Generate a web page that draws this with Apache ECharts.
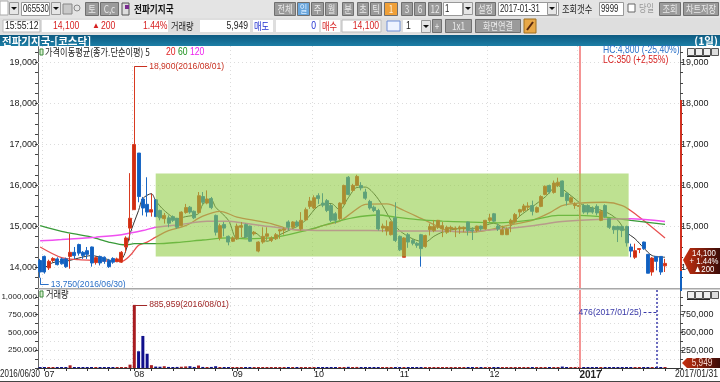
<!DOCTYPE html>
<html>
<head>
<meta charset="utf-8">
<script src="https://cdn.jsdelivr.net/npm/echarts@6/dist/echarts.min.js"></script>
<style>
  html, body { margin: 0; padding: 0; background: #fff; }
  #chart { width: 720px; height: 382px; }
</style>
</head>
<body>
<div id="chart"></div>
<script>
// one row per trading day: [open, close, low, high]
const candles = [
  [14170,13890,13750,14210],[14270,13890,13850,14290],[13990,14150,13940,14190],[14170,14220,14130,14250],
  [14210,14070,14050,14250],[14210,14090,14070,14240],[14210,14020,13990,14240],[14270,14370,13970,14820],
  [14370,14290,14210,14500],[14560,14350,14290,14580],[14370,14290,14210,14400],[14410,14320,14210,14500],
  [14500,14110,14020,14510],[14120,14240,14070,14270],[14270,14110,14050,14290],[14250,14150,14090,14270],
  [14170,14020,13990,14210],[14220,14130,14090,14250],[14150,14210,14130,14240],[14130,14370,14110,14400],
  [14500,14720,14370,14760],[14960,15200,14660,16300],[15410,17000,15410,18900],[16790,15730,15590,16790],
  [15670,15450,15270,15720],[15540,15350,15240,16200],[15350,15410,15240,15800],[15650,15240,15230,15670],
  [15390,15210,15150,15410],[15190,15270,15070,15330],[15210,15080,14980,15270],[15240,15150,15110,15270],
  [15200,14980,14940,15210],[15020,15350,15000,15370],[15340,15460,15310,15550],[15470,15350,15310,15500],
  [15370,15210,15180,15390],[15340,15750,15310,15840],[15730,15590,15540,15840],[15570,15670,15540,15880],
  [15680,15460,15420,15720],[15270,14860,14780,15290],[14720,15020,14660,15070],[15050,14960,14760,15110],
  [14760,14620,14540,14780],[14640,14720,14620,14760],[14700,15010,14670,15070],[14980,15020,14740,15110],
  [15050,14740,14720,15070],[15010,14640,14620,15020],[14820,14860,14780,14890],[14400,14620,14370,14640],
  [14620,14760,14580,14980],[14760,14820,14660,14980],[14660,14720,14620,14760],[14700,14800,14670,14840],
  [14890,14920,14700,14940],[14910,14940,14800,14980],[15110,14980,14900,15150],[14980,15110,14940,15130],
  [15110,15020,14980,15150],[14940,15150,14900,15350],[15160,15410,15130,15460],[15490,15620,15430,15720],
  [15450,15700,15420,15760],[15750,15680,15550,15810],[15570,15520,15470,15810],[15630,15390,15350,15670],
  [15510,15150,15110,15550],[15310,15150,15070,15350],[15190,15570,15160,15590],[15550,16000,15540,16020],
  [16200,15780,15760,16230],[15880,16000,15840,16040],[16000,16220,15980,16260],[16000,15940,15880,16080],
  [15840,15690,15650,15920],[15610,15450,15410,15650],[15470,15390,15350,15510],[15390,14940,14900,15430],
  [14960,15010,14860,15070],[14890,15000,14780,15150],[14800,15110,14780,15130],[15210,14660,14620,15590],
  [14760,14430,14400,14780],[14250,14720,14250,14740],[14800,14620,14480,14840],[14660,14590,14540,14700],
  [14590,14540,14480,14620],[14800,14460,14020,14820],[14510,14780,14480,14800],[14920,15000,14780,15070],
  [14900,15000,14860,15160],[14980,15150,14940,15160],[14940,15020,14740,15110],[14860,14980,14820,15020],
  [14940,14980,14860,15020],[14930,14960,14740,15000],[14940,14980,14820,15020],[14940,14980,14860,15000],
  [15110,14900,14780,15120],[14920,14890,14670,14980],[14900,15010,14860,15020],[15010,14940,14900,15020],
  [14940,15150,14920,15160],[15150,15210,15110,15310],[15310,15130,15100,15330],[15010,14940,14890,15070],
  [14800,14920,14790,15020],[14800,14940,14790,14980],[15070,15150,14860,15190],[15110,15290,15070,15330],
  [15350,15410,15230,15430],[15390,15500,15350,15550],[15470,15500,15390,15590],[15510,15370,15270,15630],
  [15350,15460,15330,15490],[15490,15730,15470,15760],[15780,15980,15760,16000],[16000,15840,15800,16020],
  [15830,16060,15800,16120],[16000,16080,15960,16190],[16110,15730,15720,16120],[15810,15630,15510,15840],
  [15590,15700,15570,15730],[15510,15540,15430,15590],[15490,15510,15190,15590],[15510,15350,15310,15550],
  [15510,15350,15290,15540],[15450,15350,15310,15490],[15490,15330,15270,15540],[15150,15370,15130,15410],
  [15510,15240,15210,15540],[15190,14980,14940,15210],[15000,14920,14820,15020],[15000,14920,14620,15020],
  [15000,14900,14740,15020],[15000,14600,14510,15020],[14500,14400,14250,14580],[14250,14410,14210,14580],
  [14440,14460,14350,14460],[14620,14460,14430,14630],[14320,13860,13860,14330],[13890,14230,13800,14250],
  [14270,14150,13930,14280],[14270,13890,13820,14280],[14040,14100,13890,14210]
];
const volumes = [
  8000,12000,9000,7000,6000,8000,6000,38000,9000,8000,7000,6000,9000,8000,7000,6000,5000,6000,7000,10000,12000,
  47000,885959,235000,450000,200000,40000,20000,18000,25000,15000,8000,15000,18000,22000,25000,15000,35000,15000,
  12000,15000,25000,10000,12000,10000,9000,7000,8000,6000,7000,5000,8000,9000,6000,5000,6000,7000,5000,6000,8000,
  7000,9000,12000,10000,9000,7000,6000,8000,9000,7000,10000,14000,16000,12000,15000,9000,8000,7000,6000,9000,
  7000,6000,5000,8000,9000,8000,6000,5000,6000,10000,8000,7000,6000,7000,5000,6000,5000,4000,5000,6000,7000,5000,
  6000,5000,7000,6000,8000,5000,6000,7000,8000,6000,7000,6000,5000,12000,12000,14000,12000,9000,8000,7000,20000,
  12000,10000,14000,7000,5000,4000,5000,4000,6000,5000,4000,5000,6000,7000,5000,6000,5000,4000,10000,12000,10000,
  476,3000,5949
];
// moving averages as [day index, value]
const ma5 = [
  [0,13900],[3,14120],[6,14150],[9,14230],[12,14290],[15,14220],[18,14140],[19,14190],[20,14400],[21,14820],[23,15390],
  [24,15680],[26,15800],[27,15630],[29,15390],[32,15190],[34,15240],[37,15310],[38,15540],[40,15650],[41,15470],[44,15150],
  [46,14700],[48,14740],[50,14850],[53,14640],[56,14800],[60,15000],[62,15150],[65,15500],[68,15560],[70,15400],[72,15700],
  [74,15950],[76,15960],[78,15800],[80,15510],[82,15150],[84,14900],[87,14700],[90,14620],[92,14760],[94,14860],[98,14950],
  [102,14960],[106,15080],[109,14950],[112,15250],[115,15480],[118,15720],[121,16000],[122,15920],[125,15670],[127,15510],
  [130,15430],[133,15310],[135,15150],[137,14860],[139,14700],[141,14480],[143,14290],[146,14250]
];
const ma20 = [
  [0,14500],[5,14240],[9,14190],[13,14170],[19,14150],[21,14290],[23,14540],[25,14620],[27,14740],[30,14900],[34,15020],
  [38,15250],[42,15370],[46,15230],[51,15130],[54,15070],[58,14940],[62,14900],[66,15020],[70,15130],[73,15350],[76,15540],
  [81,15550],[85,15390],[90,15150],[96,14880],[101,14860],[105,14920],[109,15020],[115,15150],[119,15330],[122,15510],
  [126,15570],[132,15590],[136,15510],[139,15310],[146,14720]
];
const ma60 = [
  [0,15020],[5,14880],[12,14740],[16,14620],[20,14550],[22,14580],[27,14580],[33,14620],[38,14670],[44,14720],[48,14700],
  [54,14720],[62,14900],[68,15080],[73,15210],[79,15280],[83,15230],[89,15160],[94,15130],[99,15110],[107,15090],
  [115,15160],[121,15270],[126,15270],[132,15230],[138,15150],[146,15050]
];
const ma120 = [
  [0,14650],[5,14680],[13,14740],[19,14800],[24,14900],[27,14980],[33,15050],[39,15130],[44,15130],[47,15090],[52,15020],
  [58,14940],[63,14910],[70,14900],[77,14900],[85,14890],[93,14890],[99,14880],[107,14930],[115,15020],[122,15120],
  [130,15170],[138,15190],[146,15120]
];
const dayCount = 150;  // three empty slots stay right of the last candle
const categories = Array.from({ length: dayCount }, (_, i) => String(i));
const monthTickIdx = [1, 22, 45, 64, 84, 105, 126];
const monthTickLabels = ['07', '08', '09', '10', '11', '12', '{y|2017}'];
const priceGrid = [14000, 15000, 16000, 17000, 18000, 19000];
const boxFrom = 27, boxTo = 137, boxLow = 14270, boxHigh = 16290;
const yearLineIdx = 126, minVolIdx = 144;

const latin = '"Liberation Sans",sans-serif';
const kr = '"Noto Sans CJK KR",sans-serif';
const fmt = v => Number(v).toLocaleString('en-US');

// chrome of the trading window around the chart
const chrome = [];
function box(x, y, w, h, fill, stroke) {
  chrome.push({ type: 'rect', shape: { x, y, width: w, height: h }, silent: true,
    style: { fill, stroke: stroke || null, lineWidth: 1 } });
}
// source screen uses a narrow bitmap font, so text is squeezed horizontally
function txt(x, y, text, fill, font, align, squeeze) {
  chrome.push({ type: 'text', x, y, silent: true, scaleX: squeeze || .82,
    style: { text, fill: fill || '#222', font: font || ('10px ' + kr), textAlign: align || 'left', textVerticalAlign: 'middle' } });
}
function btn(x, y, w, h, label, fill, color) {
  box(x + .5, y + .5, w, h, fill || '#9b9b9b', '#6f6f6f');
  txt(x + w / 2 + .5, y + h / 2 + .5, label, color || '#e9e9e9', '10px ' + kr, 'center');
}
function combo(x, y, w, h, label) {
  box(x + .5, y + .5, w, h, '#fff', '#999');
  txt(x + 2, y + h / 2 + .5, label, '#222', '10.5px ' + latin, 'left', .74);
}
function arrowBtn(x, y) {
  box(x + .5, y + .5, 9, 12, '#e6e6e6', '#999');
  chrome.push({ type: 'polygon', silent: true, shape: { points: [[x + 2, y + 5], [x + 8, y + 5], [x + 5, y + 8]] }, style: { fill: '#111' } });
}

box(0, 0, 720, 35, '#e4e4e4');
box(0, 1, 8, 14, '#fff', '#aaa'); arrowBtn(9, 2);
combo(21, 2, 28, 13, '065530'); arrowBtn(51, 2);
box(63, 4, 9, 10, '#c9c9c9', '#888');
chrome.push({ type: 'circle', silent: true, shape: { cx: 77, cy: 8, r: 3 }, style: { fill: 'none', stroke: '#888' } });
btn(85, 2, 13, 13, '토'); btn(100, 2, 18, 13, 'C,c');
box(122, 3, 7, 12, '#ddd', '#555'); box(125, 5, 4, 4, '#7a2a90');
txt(134, 9, '전파기지국', '#111', 'bold 10.5px ' + kr);
btn(274, 2, 21, 13, '전체'); btn(297, 2, 12, 13, '일', '#6aa6dc', '#d9ecff'); btn(311, 2, 12, 13, '주');
btn(325, 2, 12, 13, '월'); btn(342, 2, 11, 13, '분'); btn(357, 2, 11, 13, '초'); btn(370, 2, 11, 13, '틱');
btn(384, 2, 13, 13, '1', '#f0a038', '#fff0d8'); btn(401, 2, 11, 13, '3'); btn(414, 2, 11, 13, '6'); btn(428, 2, 13, 13, '12');
combo(443, 2, 19, 13, '1'); arrowBtn(463, 2);
btn(475, 2, 20, 13, '설정');
combo(498, 2, 60, 13, '2017-01-31'); arrowBtn(547, 2);
txt(562, 9, '조회갯수', '#222', '10px ' + kr);
combo(599, 2, 24, 13, '9999');
box(628, 4, 7, 8, '#fff', '#666');
txt(639, 8, '당일', '#999', '10px ' + kr);
btn(659, 2, 21, 13, '조회'); btn(683, 2, 35, 13, '차트저장');

box(0, 18, 720, 16, '#dedede');
box(3, 20, 37, 12, '#fff', '#bbb');
txt(5, 26, '15:55:12', '#222', '10.5px ' + latin);
box(42, 20, 126, 12, '#fff');
txt(53, 26, '14,100', '#d62020', '10.5px ' + latin);
txt(92, 26, '▲', '#d62020', '8px ' + latin, 'left', 1);
txt(101, 26, '200', '#d62020', '10.5px ' + latin);
txt(143, 26, '1.44%', '#d62020', '10.5px ' + latin);
txt(171, 26, '거래량', '#222', '10px ' + kr);
box(200, 20, 50, 12, '#fff');
txt(248, 26, '5,949', '#222', '10.5px ' + latin, 'right');
box(253, 20, 20, 12, '#fff');
txt(254, 26, '매도', '#2030d0', '10px ' + kr);
box(276, 20, 43, 12, '#fff');
txt(316, 26, '0', '#2030d0', '10.5px ' + latin, 'right');
box(321, 20, 19, 12, '#fff');
txt(322, 26, '매수', '#d62020', '10px ' + kr);
box(342, 20, 39, 12, '#fff', '#bbb');
txt(379, 26, '14,100', '#d62020', '10.5px ' + latin, 'right');
box(387, 21, 13, 10, '#eef3ff', '#6f8fd8');
box(403, 20, 22, 12, '#fff');
txt(406, 26, '1', '#222', '10.5px ' + latin); arrowBtn(421, 20);
btn(432, 19, 9, 13, '+'); btn(445, 19, 26, 13, '1x1');
btn(475, 19, 45, 13, '화면연결');
box(524, 19, 12, 14, '#e8a848', '#a07020');
chrome.push({ type: 'line', silent: true, shape: { x1: 527, y1: 30, x2: 533, y2: 22 }, style: { stroke: '#5a2a10', lineWidth: 2 } });

chrome.push({ type: 'rect', silent: true, shape: { x: 0, y: 35, width: 720, height: 11 },
  style: { fill: new echarts.graphic.LinearGradient(0, 0, 0, 1, [{ offset: 0, color: '#0d5a80' }, { offset: 1, color: '#1d7ea6' }]) } });
txt(2, 41, '전파기지국-[코스닥]', '#fff', 'bold 10.5px ' + kr, 'left', 1);
txt(718, 41, '(1일)', '#fff', 'bold 10.5px ' + kr, 'right', 1);

// pane captions
box(40, 49, 3, 6, '#d8f0d0', '#3a8a3a');
txt(45, 52, '가격이동평균(종가.단순이평) 5', '#222', '10px ' + kr);
txt(166, 52, '20', '#e02020', '10.5px ' + latin);
txt(178, 52, '60', '#1a901a', '10.5px ' + latin);
txt(190, 52, '120', '#ee20ee', '10.5px ' + latin);
txt(603, 50, 'HC:4,800 (-25,40%)', '#2a70c8', '10.5px ' + latin);
txt(603, 60, 'LC:350 (+2,55%)', '#d62020', '10.5px ' + latin);
box(40, 291, 3, 6, '#d8f0d0', '#3a8a3a');
txt(46, 294, '거래량', '#222', '10px ' + kr);
[48, 291].forEach(y => {
  [687, 695, 703, 711].forEach((x, i) => {
    box(x + .5, y + .5, 7, 7, i === 3 ? '#ddd' : '#eee', '#555');
  });
  chrome.push({ type: 'line', silent: true, shape: { x1: 687, y1: y + 8.5, x2: 710, y2: y + 8.5 }, style: { stroke: '#222' } });
});

// pane separator and bottom frame
box(38, 288, 682, 1.5, '#a8a8a8');
box(0, 381, 720, 1, '#444');

// right rail colour bar and last-value tags
box(680, 100, 2, 171, '#d03020');
box(680, 271, 2, 20, '#1060c0');
const tagFill = new echarts.graphic.LinearGradient(0, 0, 1, 0, [{ offset: 0, color: '#c83010' }, { offset: 1, color: '#3c0c08' }]);
chrome.push({ type: 'polygon', silent: true, shape: { points: [[683, 260], [690, 248], [720, 248], [720, 274], [690, 274]] }, style: { fill: tagFill } });
txt(704, 253, '14,100', '#fff', '9.5px ' + latin, 'center');
txt(704, 261.5, '+ 1.44%', '#fff', '9.5px ' + latin, 'center');
txt(704, 269.5, '▲200', '#fff', '9.5px ' + latin, 'center');
chrome.push({ type: 'polygon', silent: true, shape: { points: [[682, 363], [687, 358], [720, 358], [720, 368], [687, 368]] }, style: { fill: tagFill } });
txt(702, 363.5, '5,949', '#f8d8d0', '10px ' + latin, 'center');

// end labels of the time axis
txt(0, 374, '2016/06/30', '#222', '10.5px ' + latin, 'left', .76);
txt(718, 374, '2017/01/31', '#222', '10.5px ' + latin, 'right', .82);

const lineLabel = (text, color) => ({ show: true, position: 'end', formatter: text, color, distance: 2, fontFamily: latin, fontSize: 8.6 });
const noLabel = { show: false };

const chart = echarts.init(document.getElementById('chart'));

const makeX = (gridIndex, withLabels) => ({
  type: 'category', gridIndex, data: categories, boundaryGap: true,
  axisLine: { show: withLabels, lineStyle: { color: '#333' } },
  axisTick: { show: withLabels, alignWithLabel: true, length: 3, interval: i => i % 5 === 1 || monthTickIdx.includes(i), lineStyle: { color: '#333' } },
  axisLabel: {
    show: withLabels, interval: i => monthTickIdx.includes(i), margin: 2, align: 'left', color: '#222',
    fontFamily: latin, fontSize: 9,
    formatter: v => monthTickLabels[monthTickIdx.indexOf(Number(v))] || '',
    rich: { y: { fontFamily: latin, fontSize: 10, fontWeight: 'bold', color: '#222' } }
  },
  splitLine: { show: true, interval: i => monthTickIdx.includes(i), lineStyle: { color: '#dcdcdc', type: [1, 3] } }
});
const makeY = (gridIndex, position, min, max, interval, labelStep, fontSize, labelMax) => ({
  type: 'value', gridIndex, position, min, max, interval,
  axisLine: { show: true, onZero: false, lineStyle: { color: '#666' } },
  axisTick: { show: true, length: 3, lineStyle: { color: '#444' } },
  axisLabel: {
    margin: 1, color: '#222', fontFamily: latin, fontSize, showMaxLabel: false,
    formatter: v => (v > 0 && v <= labelMax && v % labelStep === 0 ? fmt(v) : '')
  },
  splitLine: { show: false }
});
const volMax = 1095000;
const gridBase = { left: 38, right: 40, outerBoundsMode: 'none' };

chart.setOption({
  animation: false,
  backgroundColor: '#fff',
  graphic: { elements: chrome.map(e => Object.assign({ z: 100 }, e)) },
  grid: [
    Object.assign({ top: 46, height: 242 }, gridBase),
    Object.assign({ top: 290, height: 78 }, gridBase)
  ],
  xAxis: [makeX(0, false), makeX(1, true)],
  yAxis: [
    makeY(0, 'left', 13500, 19400, 250, 1000, 9, 19000),
    makeY(0, 'right', 13500, 19400, 250, 1000, 9, 19000),
    Object.assign(makeY(1, 'left', 0, volMax, 125000, 250000, 8, 1000000), { splitLine: { show: true, showMaxLine: false, showMinLine: false, interval: 0, lineStyle: { color: '#dcdcdc', type: [1, 3] } } }),
    makeY(1, 'right', 0, volMax, 125000, 250000, 9, 750000)
  ],
  series: [
    {
      name: 'priceGrid', type: 'line', xAxisIndex: 0, yAxisIndex: 0, data: [], z: 1,
      markLine: {
        silent: true, symbol: 'none', z: 1, label: noLabel,
        lineStyle: { color: '#dcdcdc', type: [1, 3], width: 1 },
        data: priceGrid.map(v => ({ yAxis: v }))
      }
    },
    {
      name: 'price', type: 'candlestick', xAxisIndex: 0, yAxisIndex: 0, data: candles, barWidth: 3.5, z: 2,
      itemStyle: { color: '#cf2d10', color0: '#1060c0', borderColor: '#d83a20', borderColor0: '#1c68c4', borderWidth: 1 },
      markLine: {
        silent: true, symbol: 'none', z: 3, animation: false,
        data: [
          [{ xAxis: yearLineIdx, y: 46, lineStyle: { color: '#f07070', width: 1.5, type: 'solid' }, label: noLabel }, { xAxis: yearLineIdx, y: 288 }],
          [{ coord: [22, 18900], lineStyle: { color: '#c83020', width: 1, type: 'solid' }, label: lineLabel('18,900(2016/08/01)', '#c83020') }, { coord: [25, 18900] }],
          [{ coord: [0, 13750], lineStyle: { color: '#2a70c8', width: 1, type: 'solid' }, label: noLabel }, { coord: [0, 13590] }],
          [{ coord: [0, 13590], lineStyle: { color: '#2a70c8', width: 1, type: 'solid' }, label: lineLabel('13,750(2016/06/30)', '#2a70c8') }, { coord: [2, 13590] }]
        ]
      }
    },
    { name: 'MA5', type: 'line', xAxisIndex: 0, yAxisIndex: 0, data: ma5, showSymbol: false, smooth: 0.3, z: 2, lineStyle: { color: '#333', width: 1 } },
    { name: 'MA20', type: 'line', xAxisIndex: 0, yAxisIndex: 0, data: ma20, showSymbol: false, smooth: 0.3, z: 2, lineStyle: { color: '#e85050', width: 1.3 } },
    { name: 'MA60', type: 'line', xAxisIndex: 0, yAxisIndex: 0, data: ma60, showSymbol: false, smooth: 0.3, z: 2, lineStyle: { color: '#389a38', width: 1.3 } },
    { name: 'MA120', type: 'line', xAxisIndex: 0, yAxisIndex: 0, data: ma120, showSymbol: false, smooth: 0.3, z: 2, lineStyle: { color: '#f050f0', width: 1.5 } },
    {
      // highlighted box, from the centre of its first day to the right edge of its last day
      name: 'box', type: 'custom', xAxisIndex: 0, yAxisIndex: 0, z: 6, silent: true,
      data: [[boxFrom, boxTo, boxLow, boxHigh]],
      encode: { x: [0, 1], y: [2, 3] },
      renderItem: (params, api) => {
        const lt = api.coord([api.value(0), api.value(3)]);
        const rb = api.coord([api.value(1), api.value(2)]);
        const half = api.size([1, 0])[0] / 2;
        return { type: 'rect', shape: { x: lt[0], y: lt[1], width: rb[0] + half - lt[0], height: rb[1] - lt[1] },
          style: { fill: 'rgba(147,205,72,0.6)' } };
      }
    },
    {
      name: 'volume', type: 'bar', xAxisIndex: 1, yAxisIndex: 2, data: volumes, barWidth: 3, barMinHeight: 1, z: 2,
      itemStyle: { color: p => (candles[p.dataIndex][1] >= candles[p.dataIndex][0] ? '#a81c20' : '#10108c') },
      markLine: {
        silent: true, symbol: 'none', z: 3, animation: false,
        data: [
          [{ xAxis: yearLineIdx, y: 290, lineStyle: { color: '#f07070', width: 1.5, type: 'solid' }, label: noLabel }, { xAxis: yearLineIdx, y: 368 }],
          [{ coord: [22, 885959], lineStyle: { color: '#a02828', width: 1, type: 'solid' }, label: lineLabel('885,959(2016/08/01)', '#a02828') }, { coord: [25, 885959] }],
          [{ coord: [minVolIdx, 476], lineStyle: { color: '#3838a8', width: 1.5, type: [2, 2] }, label: noLabel }, { xAxis: minVolIdx, y: 290 }],
          [{ coord: [minVolIdx, 780000], lineStyle: { color: '#3838a8', width: 1, type: [3, 2] }, label: lineLabel('476(2017/01/25)', '#3838a8') }, { coord: [141, 780000] }]
        ]
      }
    }
  ]
});
</script>
</body>
</html>
